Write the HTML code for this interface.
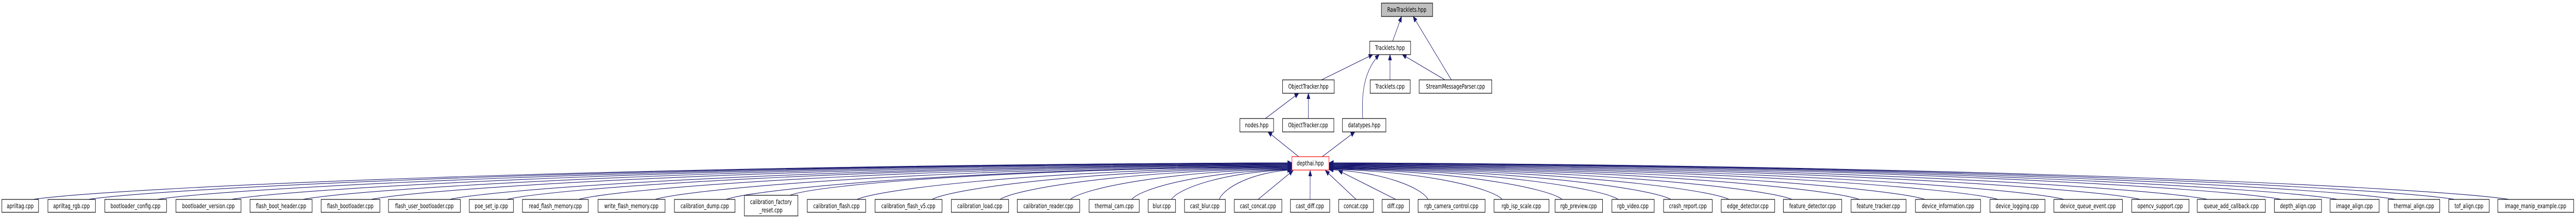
<!DOCTYPE html>
<html><head><meta charset="utf-8"><style>
html,body{margin:0;padding:0;background:#fff;width:100%;height:100%;overflow:hidden;}
svg{display:block;width:100vw;height:100vh;}
text{font-family:"DejaVu Sans","Liberation Sans",sans-serif;font-size:12px;fill:#000;text-anchor:middle;}
rect.n{fill:#fff;stroke:#000;stroke-width:1.2;}
path.e{fill:none;stroke:#191970;stroke-width:1.1;}
</style></head><body>
<svg id="s" viewBox="0 0 6883 425" preserveAspectRatio="none" xmlns="http://www.w3.org/2000/svg">
<defs><marker id="a" markerUnits="userSpaceOnUse" markerWidth="12" markerHeight="10" refX="11" refY="4.5" orient="auto"><path d="M0,0 L11,4.5 L0,9 z" fill="#191970" stroke="#191970"/></marker></defs>
<g id="edges"></g>
<g id="top">
<rect x="3691" y="6" width="137" height="26" fill="#bfbfbf" stroke="#000" stroke-width="1.2"/><text x="3759" y="23">RawTracklets.hpp</text>
<rect class="n" x="3660" y="80" width="109" height="26"/><text x="3714" y="97">Tracklets.hpp</text>
<rect class="n" x="3427" y="155" width="138" height="26"/><text x="3496" y="172">ObjectTracker.hpp</text>
<rect class="n" x="3661" y="155" width="107" height="26"/><text x="3714" y="172">Tracklets.cpp</text>
<rect class="n" x="3792" y="155" width="194" height="26"/><text x="3889" y="172">StreamMessageParser.cpp</text>
<rect class="n" x="3313" y="230" width="90" height="26"/><text x="3358" y="247">nodes.hpp</text>
<rect class="n" x="3427" y="230" width="137" height="26"/><text x="3495" y="247">ObjectTracker.cpp</text>
<rect class="n" x="3587" y="230" width="116" height="26"/><text x="3645" y="247">datatypes.hpp</text>
<rect x="3452" y="304" width="99" height="26" fill="#fff" stroke="#ff0000" stroke-width="1.2"/><text x="3501" y="321">depthai.hpp</text>
</g>
<g id="bottom">
<rect class="n b" x="5" y="387" width="98" height="25"/><text x="54" y="404">apriltag.cpp</text>
<rect class="n b" x="128" y="387" width="127" height="25"/><text x="191" y="404">apriltag_rgb.cpp</text>
<rect class="n b" x="280" y="387" width="165" height="25"/><text x="362" y="404">bootloader_config.cpp</text>
<rect class="n b" x="470" y="387" width="174" height="25"/><text x="557" y="404">bootloader_version.cpp</text>
<rect class="n b" x="668" y="387" width="166" height="25"/><text x="751" y="404">flash_boot_header.cpp</text>
<rect class="n b" x="858" y="387" width="157" height="25"/><text x="936" y="404">flash_bootloader.cpp</text>
<rect class="n b" x="1038" y="387" width="192" height="25"/><text x="1134" y="404">flash_user_bootloader.cpp</text>
<rect class="n b" x="1254" y="387" width="118" height="25"/><text x="1313" y="404">poe_set_ip.cpp</text>
<rect class="n b" x="1396" y="387" width="176" height="25"/><text x="1484" y="404">read_flash_memory.cpp</text>
<rect class="n b" x="1598" y="387" width="179" height="25"/><text x="1687" y="404">write_flash_memory.cpp</text>
<rect class="n b" x="1802" y="387" width="162" height="25"/><text x="1883" y="404">calibration_dump.cpp</text>
<rect class="n b" x="1989" y="379" width="143" height="40"/><text x="2060" y="396">calibration_factory</text><text x="2060" y="412">_reset.cpp</text>
<rect class="n b" x="2157" y="387" width="156" height="25"/><text x="2235" y="404">calibration_flash.cpp</text>
<rect class="n b" x="2338" y="387" width="179" height="25"/><text x="2427" y="404">calibration_flash_v5.cpp</text>
<rect class="n b" x="2542" y="387" width="153" height="25"/><text x="2618" y="404">calibration_load.cpp</text>
<rect class="n b" x="2718" y="387" width="167" height="25"/><text x="2801" y="404">calibration_reader.cpp</text>
<rect class="n b" x="2910" y="387" width="134" height="25"/><text x="2977" y="404">thermal_cam.cpp</text>
<rect class="n b" x="3068" y="387" width="73" height="25"/><text x="3104" y="404">blur.cpp</text>
<rect class="n b" x="3165" y="387" width="109" height="25"/><text x="3219" y="404">cast_blur.cpp</text>
<rect class="n b" x="3298" y="387" width="127" height="25"/><text x="3361" y="404">cast_concat.cpp</text>
<rect class="n b" x="3448" y="387" width="105" height="25"/><text x="3500" y="404">cast_diff.cpp</text>
<rect class="n b" x="3577" y="387" width="93" height="25"/><text x="3623" y="404">concat.cpp</text>
<rect class="n b" x="3693" y="387" width="73" height="25"/><text x="3729" y="404">diff.cpp</text>
<rect class="n b" x="3789" y="387" width="179" height="25"/><text x="3878" y="404">rgb_camera_control.cpp</text>
<rect class="n b" x="3992" y="387" width="147" height="25"/><text x="4065" y="404">rgb_isp_scale.cpp</text>
<rect class="n b" x="4155" y="387" width="127" height="25"/><text x="4218" y="404">rgb_preview.cpp</text>
<rect class="n b" x="4307" y="387" width="113" height="25"/><text x="4363" y="404">rgb_video.cpp</text>
<rect class="n b" x="4445" y="387" width="130" height="25"/><text x="4510" y="404">crash_report.cpp</text>
<rect class="n b" x="4599" y="387" width="143" height="25"/><text x="4670" y="404">edge_detector.cpp</text>
<rect class="n b" x="4765" y="387" width="156" height="25"/><text x="4843" y="404">feature_detector.cpp</text>
<rect class="n b" x="4946" y="387" width="147" height="25"/><text x="5019" y="404">feature_tracker.cpp</text>
<rect class="n b" x="5118" y="387" width="174" height="25"/><text x="5205" y="404">device_information.cpp</text>
<rect class="n b" x="5317" y="387" width="147" height="25"/><text x="5390" y="404">device_logging.cpp</text>
<rect class="n b" x="5488" y="387" width="183" height="25"/><text x="5579" y="404">device_queue_event.cpp</text>
<rect class="n b" x="5696" y="387" width="153" height="25"/><text x="5772" y="404">opencv_support.cpp</text>
<rect class="n b" x="5871" y="387" width="182" height="25"/><text x="5962" y="404">queue_add_callback.cpp</text>
<rect class="n b" x="6077" y="387" width="126" height="25"/><text x="6140" y="404">depth_align.cpp</text>
<rect class="n b" x="6226" y="387" width="131" height="25"/><text x="6291" y="404">image_align.cpp</text>
<rect class="n b" x="6381" y="387" width="138" height="25"/><text x="6450" y="404">thermal_align.cpp</text>
<rect class="n b" x="6543" y="387" width="108" height="25"/><text x="6597" y="404">tof_align.cpp</text>
<rect class="n b" x="6674" y="387" width="203" height="25"/><text x="6775" y="404">image_manip_example.cpp</text>
</g>
</svg>
<script>
(function(){
var NS="http://www.w3.org/2000/svg",g=document.getElementById("edges");
function P(d){var p=document.createElementNS(NS,"path");p.setAttribute("d",d);p.setAttribute("class","e");p.setAttribute("marker-end","url(#a)");g.appendChild(p);}
P("M3721,80 L3745,32");
P("M3878,155 L3776,32");
P("M3531,155 L3668,106");
P("M3641,230 C3638,185 3642,140 3685,106");
P("M3714,155 L3714,106");
P("M3861,155 L3747,106");
P("M3381,230 L3470,181");
P("M3496,230 L3496,181");
P("M3470,304 L3388,256");
P("M3533,304 L3620,256");
var rs=document.querySelectorAll("rect.b"),C=3501;
for(var i=0;i<rs.length;i++){
 var r=rs[i],x=+r.getAttribute("x"),w=+r.getAttribute("width"),y=+r.getAttribute("y");
 var cx=x+w/2,dx=C-cx,ad=Math.abs(dx),sg=dx>0?1:-1;
 if(ad<260){
  var ex=C-dx*0.33; P("M"+cx+","+y+" L"+ex+",331");
 } else {
  var sx=cx+sg*0.35*w;
  var ex2=dx>0?3451:3552;
  var ey=330-14*Math.min(1,(ad-260)/2600);
  var D=ex2-sx;
  P("M"+sx+","+y+" C"+(sx+0.06*D)+","+(y-22)+" "+(sx+0.45*D)+","+(ey+4)+" "+ex2+","+ey);
 }
}
})();
</script>
</body></html>
